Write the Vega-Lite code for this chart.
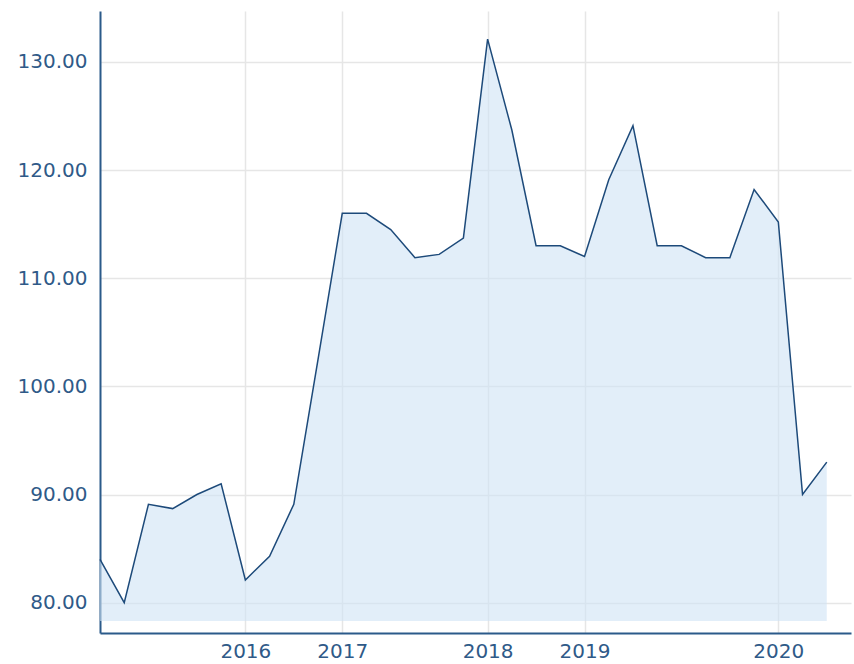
{
  "$schema": "https://vega.github.io/schema/vega-lite/v6.json",
  "autosize": "none",
  "width": 751,
  "height": 622,
  "padding": {"left": 100, "top": 11, "right": 3, "bottom": 31},
  "background": "white",
  "config": {
    "view": {"stroke": null},
    "axis": {
      "labelFont": "DejaVu Sans",
      "labelFontSize": 20,
      "labelColor": "#2f5a88",
      "domainColor": "#2b5a8a",
      "domainWidth": 2,
      "gridColor": "#e6e6e6",
      "gridWidth": 1.5,
      "ticks": false,
      "title": null
    }
  },
  "data": {
    "values": [
      {"i": 0, "v": 84.0},
      {"i": 1, "v": 80.0},
      {"i": 2, "v": 89.1},
      {"i": 3, "v": 88.7},
      {"i": 4, "v": 90.0},
      {"i": 5, "v": 91.0},
      {"i": 6, "v": 82.1},
      {"i": 7, "v": 84.3},
      {"i": 8, "v": 89.1},
      {"i": 9, "v": 102.5},
      {"i": 10, "v": 116.0},
      {"i": 11, "v": 116.0},
      {"i": 12, "v": 114.5},
      {"i": 13, "v": 111.9},
      {"i": 14, "v": 112.2},
      {"i": 15, "v": 113.7},
      {"i": 16, "v": 132.1},
      {"i": 17, "v": 123.7},
      {"i": 18, "v": 113.0},
      {"i": 19, "v": 113.0},
      {"i": 20, "v": 112.0},
      {"i": 21, "v": 119.1},
      {"i": 22, "v": 124.1},
      {"i": 23, "v": 113.0},
      {"i": 24, "v": 113.0},
      {"i": 25, "v": 111.9},
      {"i": 26, "v": 111.9},
      {"i": 27, "v": 118.2},
      {"i": 28, "v": 115.2},
      {"i": 29, "v": 90.0},
      {"i": 30, "v": 93.0}
    ]
  },
  "encoding": {
    "x": {
      "field": "i",
      "type": "quantitative",
      "scale": {"domain": [0, 31], "nice": false, "zero": false},
      "axis": {
        "values": [6, 10, 16, 20, 28],
        "labelExpr": "datum.value == 6 ? '2016' : datum.value == 10 ? '2017' : datum.value == 16 ? '2018' : datum.value == 20 ? '2019' : '2020'",
        "labelPadding": 8,
        "grid": true
      }
    },
    "y": {
      "field": "v",
      "type": "quantitative",
      "scale": {"domain": [77.2, 134.7], "nice": false, "zero": false},
      "axis": {
        "values": [80, 90, 100, 110, 120, 130],
        "format": ".2f",
        "labelPadding": 13,
        "grid": true
      }
    }
  },
  "layer": [
    {
      "mark": {"type": "area", "color": "#cfe3f5", "opacity": 0.6},
      "encoding": {"y2": {"datum": 78.3}}
    },
    {
      "mark": {"type": "line", "color": "#1d4a7a", "strokeWidth": 1.5}
    }
  ]
}
